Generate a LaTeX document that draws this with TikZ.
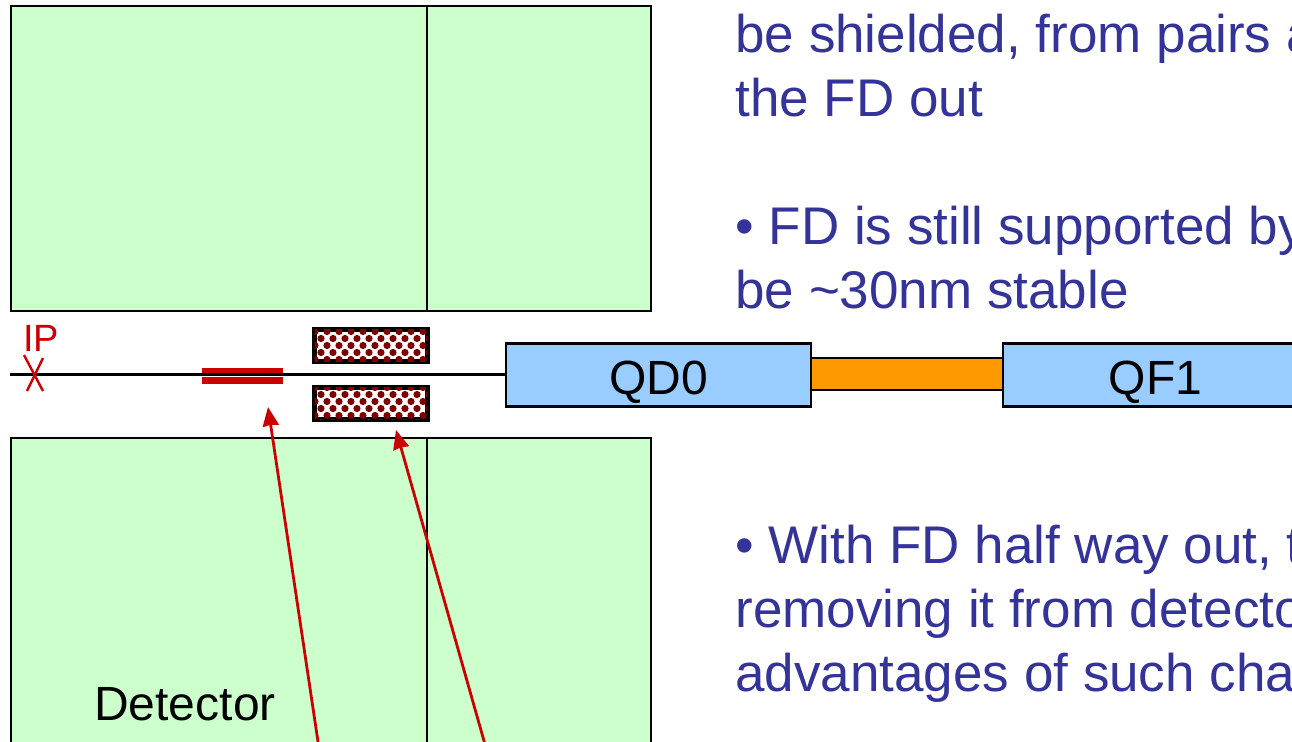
\documentclass[tikz,border=0pt]{standalone}
\usepackage{fontspec}
\setmainfont{Liberation Sans}
\usetikzlibrary{arrows.meta, patterns}
\definecolor{detgreen}{HTML}{CCFFCC}
\definecolor{magblue}{HTML}{99CCFF}
\definecolor{suporange}{HTML}{FF9900}
\definecolor{ipred}{HTML}{CC0000}
\definecolor{coilred}{HTML}{800000}
\definecolor{slideblue}{HTML}{333399}
\pgfdeclarepatternformonly{coildots}{\pgfqpoint{-1pt}{-1pt}}{\pgfqpoint{7pt}{8pt}}{\pgfqpoint{6pt}{7pt}}{
	\pgfpathcircle{\pgfqpoint{1.5pt}{1.75pt}}{1.8pt}
	\pgfpathcircle{\pgfqpoint{4.5pt}{5.25pt}}{1.8pt}
	\pgfusepath{fill}
}
\tikzstyle{detector} = [rectangle, anchor=north west, inner sep=0, outer sep=0, draw=black, line width=1.4pt, fill=detgreen]
\tikzstyle{magnet} = [rectangle, anchor=west, inner sep=0, outer sep=0, minimum height=31.5pt, text height=19.5pt, text depth=0pt, draw=black, line width=1.4pt, fill=magblue, font=\fontsize{24}{28}\selectfont]
\tikzstyle{support} = [rectangle, anchor=west, inner sep=0, outer sep=0, minimum width=96pt, minimum height=16pt, draw=black, line width=1.4pt, fill=suporange]
\tikzstyle{coil} = [rectangle, inner sep=0, outer sep=0, minimum width=56.5pt, minimum height=16pt, draw=black, line width=2.5pt, fill=white, postaction={pattern=coildots, pattern color=coilred}]
\tikzstyle{bar} = [rectangle, inner sep=0, outer sep=0, minimum width=40.5pt, fill=ipred]
\tikzstyle{slidetext} = [anchor=north west, inner sep=0, align=left, text=slideblue, font=\fontsize{26.5}{32}\selectfont]
\tikzstyle{arrow} = [line width=1.4pt, draw=ipred, -{Stealth[length=9.5pt, width=8pt, inset=0.5pt]}]

\begin{document}
\begin{tikzpicture}[x=0.5pt, y=-0.5pt]

	\useasboundingbox (0,0) rectangle (1292,741);
	\clip (0,0) rectangle (1292,741);

	% detector halves
	\node (uppera) [detector, minimum width=208pt, minimum height=152.5pt] at (11,6) {};
	\node (upperb) [detector, minimum width=112pt, minimum height=152.5pt] at (427,6) {};
	\node (lowera) [detector, minimum width=208pt, minimum height=200pt] at (11,438) {};
	\node (lowerb) [detector, minimum width=112pt, minimum height=200pt] at (427,438) {};
	\node (det) [font=\fontsize{24}{28}\selectfont, inner sep=0] at (185,704) {Detector};

	% beam line elements
	\node (qdzero) [magnet, minimum width=152.5pt] at (506,375) {QD0};
	\node (qfone) [magnet, minimum width=152.5pt] at (1003,375) {QF1};
	\node (tube) [support, anchor=west] at (811,374) {};
	\node (bartop) [bar, minimum height=4pt] at (242.5,372) {};
	\node (barbot) [bar, minimum height=3.5pt] at (242.5,380.5) {};
	\node (coiltop) [coil] at (371,345.5) {};
	\node (coilbot) [coil] at (371,403.5) {};

	\coordinate (beamstart) at (10,374);
	\draw [line width=1.5pt] (beamstart) -- (beamstart -| qdzero.west);

	% IP mark
	\node (ip) [text=ipred, font=\fontsize{19}{22}\selectfont, inner sep=0] at (41,338) {IP};
	\coordinate (ipa) at (24,355);
	\coordinate (ipb) at (43,391);
	\coordinate (ipc) at (43,358);
	\coordinate (ipd) at (27,391);
	\draw [ipred, line width=1.2pt] (ipa) -- (ipb);
	\draw [ipred, line width=1.2pt] (ipc) -- (ipd);

	% arrows from below
	\coordinate (tipa) at (268,407);
	\coordinate (tipb) at (396,430);
	\coordinate (enda) at (320,755);
	\coordinate (endb) at (488,755);
	\draw [arrow] (enda) -- (tipa);
	\draw [arrow] (endb) -- (tipb);

	% slide text
	\node (texta) [slidetext] at (735,14) {be shielded, from pairs a\\the FD out};
	\node (textb) [slidetext] at (735,206) {\textbullet{} FD is still supported by\\be \textasciitilde30nm stable};
	\node (textc) [slidetext] at (735,525) {\textbullet{} With FD half way out, t\\removing it from detecto\\advantages of such cha};

\end{tikzpicture}
\end{document}
